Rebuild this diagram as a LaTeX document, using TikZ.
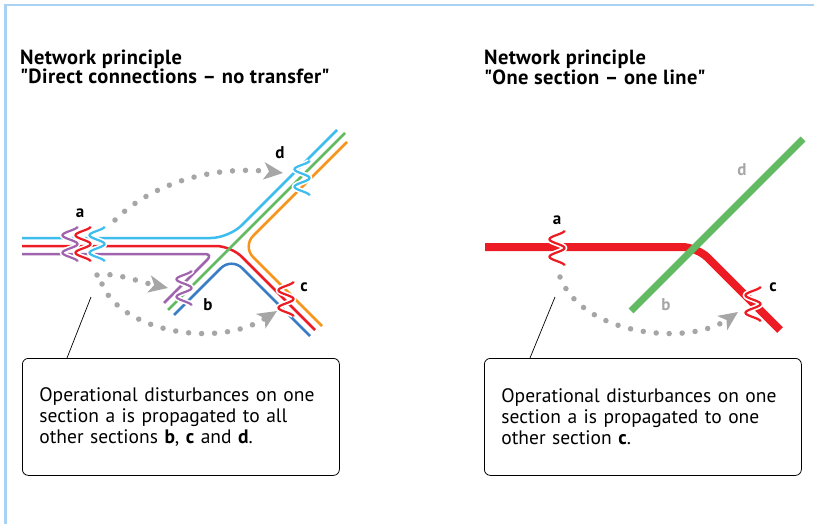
\documentclass[tikz,border=0pt]{standalone}
\usepackage{fontspec}
\setmainfont{PT Sans}
\usepackage{xcolor}
\usepackage{tikz}
\usetikzlibrary{calc,arrows.meta}
\definecolor{framebl}{HTML}{A9D2F2}
\definecolor{lcyan}{HTML}{3CBDEE}
\definecolor{lred}{HTML}{ED1C24}
\definecolor{lpurple}{HTML}{A064AE}
\definecolor{lgreen}{HTML}{62BB62}
\definecolor{lblue}{HTML}{3B7DC4}
\definecolor{lorange}{HTML}{F7941D}
\definecolor{dotgrey}{HTML}{A6A6A6}
\newcommand{\straightquote}{\XeTeXglyph\XeTeXcharglyph"22\relax}
% a disturbance: white halo, then the coloured squiggle
\newcommand{\wiggle}[3]{%
  \draw[white, line width=5.5pt, shift={(#1,#2)}, domain=0:720, samples=73, smooth]
    plot ({7.5*cos(\x)}, {\x/720*35-17.5});
  \draw[#3, line width=2.2pt, shift={(#1,#2)}, domain=0:720, samples=73, smooth]
    plot ({7.5*cos(\x)}, {\x/720*35-17.5});
}

\begin{document}
\begin{tikzpicture}[x=1pt, y=-1pt,
    track/.style={line width=2.5pt},
    dots/.style={dotgrey, line width=5.5pt, line cap=round, dash pattern=on 0pt off 13pt,
                 -{Stealth[length=19pt, width=17pt, inset=5pt]}},
    tag/.style={font=\fontsize{17}{17}\selectfont\bfseries, inner sep=0pt},
    title/.style={anchor=north west, align=left, inner sep=0pt,
                  font=\fontsize{20.5}{18}\selectfont\bfseries\addfontfeatures{LetterSpace=2}},
    note/.style={draw, line width=0.8pt, rounded corners=6pt, anchor=north west,
                 minimum width=317pt, minimum height=117pt, text width=283pt,
                 inner xsep=17pt, align=left, font=\fontsize{19.5}{21}\selectfont}]
  \useasboundingbox (0,0) rectangle (814,524);
  \draw[framebl, line width=2.5pt] (5.5,524) -- (5.5,5) -- (814,5);

  % titles
  \node[title] (titleL) at (20,49.5) {Network principle\\\straightquote Direct connections -- no transfer\straightquote};
  \node[title] (titleR) at (484,49.5) {Network principle\\\straightquote One section -- one line\straightquote};

  % left network
  \draw[track, lcyan, rounded corners=18pt] (22,238) -- (229,238) -- (337,130);
  \draw[track, lred, rounded corners=15pt] (22,246) -- (231,246) -- (315,330);
  \draw[track, lpurple, rounded corners=8pt] (22,254) -- (213,254) -- (164,303);
  \draw[track, lblue, rounded corners=15pt] (174,315) -- (231.5,257.5) -- (310,336);
  \draw[track, lorange, rounded corners=15pt] (347,142) -- (242.5,246.5) -- (322,326);
  \draw[track, lgreen] (168,310) -- (345,133);
  \foreach \px/\py/\col in {70/244/lpurple, 83/244/lred, 97/244/lcyan,
                            184/288/lpurple, 286/299/lred, 302/178/lcyan} {
    \wiggle{\px}{\py}{\col}
  }
  \node[tag] (aL) at (80,213) {a};
  \node[tag] (bL) at (208,305) {b};
  \node[tag] (cL) at (304,287) {c};
  \node[tag] (dL) at (280,153) {d};

  \coordinate (fromD) at (115,220);
  \coordinate (toD) at (283,173);
  \coordinate (fromB) at (97,275);
  \coordinate (toB) at (168,288);
  \coordinate (fromC) at (102,284);
  \coordinate (toC) at (277,311);
  \draw[dots] (fromD) .. controls (150,185) and (210,165) .. (toD);
  \draw[dots] (fromB) .. controls (115,272) and (140,282) .. (toB);
  \draw[dots] (fromC) .. controls (120,330) and (215,350) .. (toC);

  % right network
  \draw[lred, line width=8pt, rounded corners=15pt] (485,247) -- (697,247) -- (780,330);
  \draw[lgreen, line width=7pt] (631,311) -- (803,139);
  \wiggle{557}{248}{lred}
  \wiggle{753}{304}{lred}
  \node[tag] (aR) at (557,220) {a};
  \node[tag, dotgrey] (bR) at (666,305) {b};
  \node[tag] (cR) at (773,287) {c};
  \node[tag, dotgrey] (dR) at (742,170) {d};

  \coordinate (fromCR) at (560,277);
  \coordinate (toCR) at (738,312);
  \draw[dots] (fromCR) .. controls (582,335) and (688,347) .. (toCR);

  % notes
  \node[note] (noteL) at (22,358) {Operational disturbances on one\\section a is propagated to all\\other sections \textbf{b}, \textbf{c} and \textbf{d}.};
  \node[note] (noteR) at (484,358) {Operational disturbances on one\\section a is propagated to one\\other section \textbf{c}.};
  \coordinate (ptrL) at (91,297);
  \coordinate (ptrR) at (555,297);
  \draw[line width=0.7pt] (ptrL) -- ($(noteL.north west)+(45,0)$);
  \draw[line width=0.7pt] (ptrR) -- ($(noteR.north west)+(46,0)$);
\end{tikzpicture}
\end{document}
